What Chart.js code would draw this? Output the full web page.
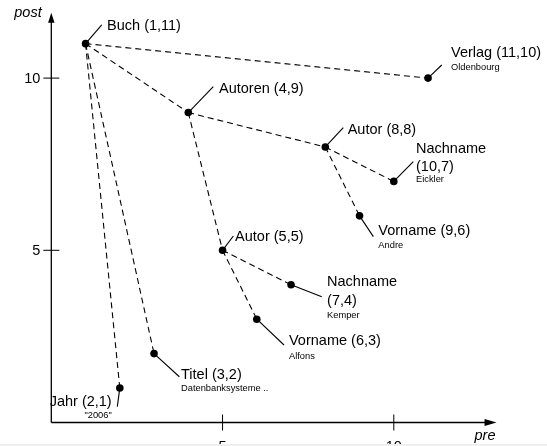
<!DOCTYPE html>
<html>
<head>
<meta charset="utf-8">
<script src="https://cdn.jsdelivr.net/npm/chart.js@4/dist/chart.umd.min.js"></script>
<style>
  html, body { margin: 0; padding: 0; background: #fff; }
  #wrap { width: 547px; height: 446px; }
</style>
</head>
<body>
<div id="wrap"><canvas id="c" width="547" height="446"></canvas></div>
<script>
// ---- data ----
const names   = ['Buch', 'Verlag', 'Autoren', 'Autor', 'Nachname', 'Vorname', 'Autor', 'Nachname', 'Vorname', 'Titel', 'Jahr'];
const pre     = [1, 11, 4, 8, 10, 9, 5, 7, 6, 3, 2];
const post    = [11, 10, 9, 8, 7, 6, 5, 4, 3, 2, 1];
const values  = ['', 'Oldenbourg', '', '', 'Eickler', 'Andre', '', 'Kemper', 'Alfons', 'Datenbanksysteme ..', '"2006"'];
const parent  = [-1, 0, 0, 2, 3, 3, 2, 6, 6, 0, 0];
const xTicks  = [5, 10];
const yTicks  = [5, 10];
const xTitle  = 'pre';
const yTitle  = 'post';

// ---- label layout (offsets from point pixel) ----
// l: leader end, t: text anchor (baseline), s: sub-label baseline dy, w: second line dy when wrapped
const labelLayout = [
  { l: [16.2, -18.7], t: [21.5, -13.2], s: 0,    align: 'left' },
  { l: [13.7, -13.1], t: [23, -21.1],   s: -8.1, align: 'left' },
  { l: [25, -25.8],   t: [30.7, -19.5], s: 0,    align: 'left' },
  { l: [18, -19.3],   t: [22.4, -12.5], s: 0,    align: 'left' },
  { l: [19.5, -19.7], t: [22.2, -28.7], w: -10.4, s: 0.3, align: 'left' },
  { l: [13.8, 20.8],  t: [18.8, 19.5],  s: 32,   align: 'left' },
  { l: [10.8, -14.3], t: [12.5, -9.3],  s: 0,    align: 'left' },
  { l: [30.7, 12],    t: [36, 1.7],     w: 20.3, s: 33, align: 'left' },
  { l: [27.2, 25.8],  t: [32.2, 26.2],  s: 40.2, align: 'left' },
  { l: [25.3, 23.1],  t: [27, 25.1],    s: 37.4, align: 'left' },
  { l: [-2.5, 18.6],  t: [-8.1, 17.9],  s: 30.4, align: 'right' }
];

const FONT = '"Liberation Sans", Arial, Helvetica, sans-serif';
const BIG = '14.5px ' + FONT;
const SMALL = '9.3px ' + FONT;
const ITAL = 'italic 14.5px ' + FONT;

// ---- datasets ----
const nodePoints = pre.map((p, i) => ({ x: p, y: post[i] }));
const datasets = [{
  label: 'nodes',
  data: nodePoints,
  pointRadius: 3.8,
  pointHoverRadius: 3.8,
  pointBackgroundColor: '#000',
  pointBorderColor: '#000',
  pointBorderWidth: 0,
  showLine: false,
  order: 0
}];
parent.forEach((p, i) => {
  if (p < 0) return;
  datasets.push({
    label: 'edge' + i,
    data: [{ x: pre[p], y: post[p] }, { x: pre[i], y: post[i] }],
    showLine: true,
    borderColor: '#000',
    borderWidth: 1.1,
    borderDash: [6, 4],
    pointRadius: 0,
    fill: false,
    order: 1
  });
});

const treePlugin = {
  id: 'tree',
  beforeDatasetsDraw(chart) {
    const ctx = chart.ctx, xs = chart.scales.x, ys = chart.scales.y;
    const x0 = xs.getPixelForValue(0), y0 = ys.getPixelForValue(0);
    const xEnd = xs.right, yEnd = ys.top;
    ctx.save();
    ctx.strokeStyle = '#000';
    ctx.fillStyle = '#000';
    ctx.lineWidth = 1.3;
    // axes lines
    ctx.beginPath();
    ctx.moveTo(x0, y0); ctx.lineTo(xEnd - 10, y0);
    ctx.moveTo(x0, y0); ctx.lineTo(x0, yEnd + 8);
    ctx.stroke();
    // arrowheads
    ctx.beginPath();
    ctx.moveTo(xEnd, y0); ctx.lineTo(xEnd - 12, y0 - 3.6); ctx.lineTo(xEnd - 12, y0 + 3.6); ctx.closePath();
    ctx.fill();
    ctx.beginPath();
    ctx.moveTo(x0, yEnd); ctx.lineTo(x0 - 3.2, yEnd + 10); ctx.lineTo(x0 + 3.2, yEnd + 10); ctx.closePath();
    ctx.fill();
    // ticks
    ctx.lineWidth = 1;
    ctx.beginPath();
    xTicks.forEach(v => { const px = xs.getPixelForValue(v); ctx.moveTo(px, y0 - 8); ctx.lineTo(px, y0 + 8); });
    yTicks.forEach(v => { const py = ys.getPixelForValue(v); ctx.moveTo(x0 - 8, py); ctx.lineTo(x0 + 8, py); });
    ctx.stroke();
    // tick labels
    ctx.font = BIG;
    ctx.textBaseline = 'alphabetic';
    ctx.textAlign = 'center';
    xTicks.forEach(v => ctx.fillText(String(v), xs.getPixelForValue(v), y0 + 28.5));
    ctx.textAlign = 'right';
    yTicks.forEach(v => ctx.fillText(String(v), x0 - 11, ys.getPixelForValue(v) + 5.2));
    // axis titles
    ctx.font = ITAL;
    ctx.textAlign = 'left';
    ctx.fillText(xTitle, xEnd - 22, y0 + 17);
    ctx.fillText(yTitle, x0 - 37, yEnd + 4);
    ctx.restore();
  },
  afterDatasetsDraw(chart) {
    const ctx = chart.ctx;
    const meta = chart.getDatasetMeta(0);
    ctx.save();
    ctx.strokeStyle = '#000';
    ctx.fillStyle = '#000';
    ctx.lineWidth = 1.1;
    meta.data.forEach((el, i) => {
      const L = labelLayout[i];
      const px = el.x, py = el.y;
      // leader
      ctx.beginPath();
      ctx.moveTo(px, py);
      ctx.lineTo(px + L.l[0], py + L.l[1]);
      ctx.stroke();
      // text
      ctx.textAlign = L.align;
      ctx.textBaseline = 'alphabetic';
      ctx.font = BIG;
      const coord = '(' + pre[i] + ',' + post[i] + ')';
      if (L.w !== undefined) {
        ctx.fillText(names[i], px + L.t[0], py + L.t[1]);
        ctx.fillText(coord, px + L.t[0], py + L.w);
      } else {
        ctx.fillText(names[i] + ' ' + coord, px + L.t[0], py + L.t[1]);
      }
      if (values[i]) {
        ctx.font = SMALL;
        ctx.fillText(values[i], px + L.t[0], py + L.s);
      }
    });
    ctx.restore();
  },
  afterDraw(chart) {
    const ctx = chart.ctx;
    ctx.save();
    ctx.fillStyle = '#efefef';
    ctx.fillRect(0, 444, chart.width, 2);
    ctx.restore();
  }
};

new Chart(document.getElementById('c'), {
  type: 'scatter',
  data: { datasets },
  options: {
    responsive: false,
    animation: false,
    devicePixelRatio: 1,
    layout: { padding: { left: 51.3, right: 50.45, top: 12.66, bottom: 23.5 } },
    scales: {
      x: { type: 'linear', min: 0, max: 13, display: false },
      y: { type: 'linear', min: 0, max: 11.9, display: false }
    },
    plugins: { legend: { display: false }, tooltip: { enabled: false } },
    events: []
  },
  plugins: [treePlugin]
});
</script>
</body>
</html>
